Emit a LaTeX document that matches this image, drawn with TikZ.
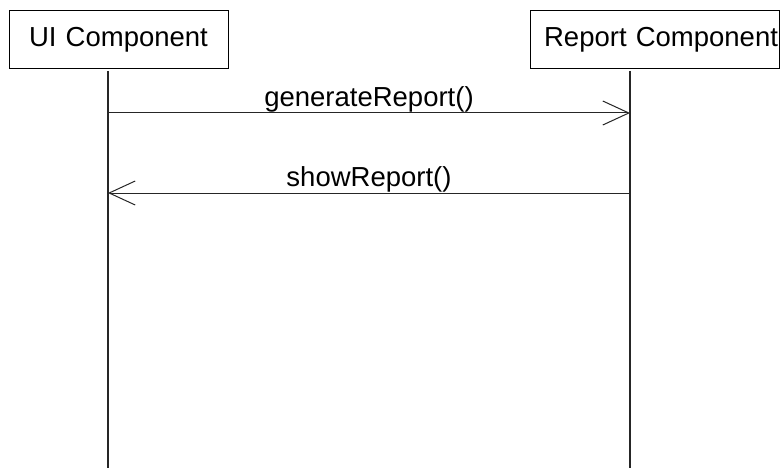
\documentclass[tikz,border=0pt]{standalone}
\usepackage{fontspec}
\setmainfont{Liberation Sans}
\usetikzlibrary{arrows.meta}
\begin{document}
\begin{tikzpicture}[x=1pt,y=-1pt,
  lifebox/.style={draw=black,line width=1pt,rectangle,inner sep=0pt,
    font=\fontsize{27.5}{32}\selectfont},
  lifeline/.style={draw=black!85,line width=1.2pt},
  msg/.style={draw=black!85,line width=1pt,-{Straight Barb[length=26pt,width=24pt,line width=1pt]}},
  msglabel/.style={font=\fontsize{27.5}{32}\selectfont,above,inner sep=0.5pt}]
\useasboundingbox[fill=white] (0,0) rectangle (782,468);
% participant boxes
\node[lifebox,minimum width=219pt,minimum height=58pt,text width=215pt,align=center] (ui) at (118.5,40) {UI Component};
\node[lifebox,minimum width=249pt,minimum height=58pt,text width=247pt,align=right] (rc) at (654.5,40) {Report Component};
% lifelines
\coordinate (uiTop) at (108,71);
\coordinate (uiBot) at (108,468);
\coordinate (rcTop) at (630,71);
\coordinate (rcBot) at (630,468);
\draw[lifeline] (uiTop) -- (uiBot);
\draw[lifeline] (rcTop) -- (rcBot);
% messages
\coordinate (m1a) at (108,113);
\coordinate (m1b) at (630,113);
\coordinate (m2a) at (630,193);
\coordinate (m2b) at (108,193);
\draw[msg] (m1a) -- node[msglabel] (l1) {generateReport()} (m1b);
\draw[msg] (m2a) -- node[msglabel] (l2) {showReport()} (m2b);
\end{tikzpicture}
\end{document}
